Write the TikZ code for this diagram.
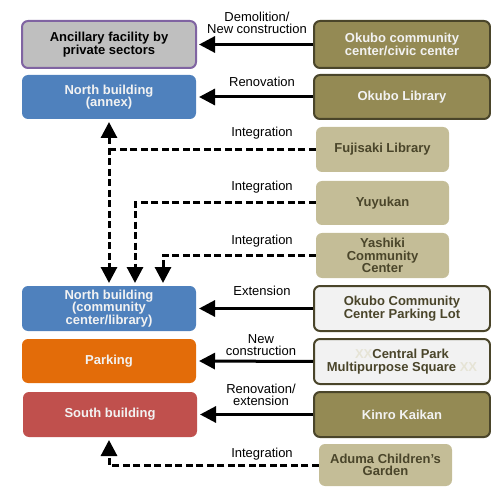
\documentclass[tikz,border=0pt]{standalone}
\usepackage{fontspec}
\setmainfont{Liberation Sans}
\usetikzlibrary{arrows.meta}

\definecolor{ancfill}{HTML}{BFBFBF}
\definecolor{ancline}{HTML}{8064A2}
\definecolor{bluebox}{HTML}{4F81BD}
\definecolor{orangebox}{HTML}{E36C09}
\definecolor{redbox}{HTML}{C0504D}
\definecolor{olivebox}{HTML}{948A54}
\definecolor{oliveline}{HTML}{4A452A}
\definecolor{tanbox}{HTML}{C4BD97}
\definecolor{paleboxfill}{HTML}{F2F2F2}
\definecolor{lighttext}{HTML}{F2F2F2}
\definecolor{ghost}{HTML}{E6E4D6}

\tikzset{
  box/.style={rounded corners=6pt, align=center, inner sep=0pt,
    font=\fontsize{13}{12.5}\selectfont\bfseries},
  leftbox/.style={box, minimum width=174pt, outer sep=3pt},
  widebox/.style={box, minimum width=176pt, draw=oliveline, line width=2pt},
  narrowbox/.style={box, minimum width=133pt, fill=tanbox, text=oliveline},
  olivebox/.style={widebox, fill=olivebox, text=lighttext},
  palebox/.style={widebox, fill=paleboxfill, text=oliveline},
  lbl/.style={align=center, inner sep=0pt, anchor=base,
    font=\fontsize{13}{12}\selectfont},
  solidarrow/.style={line width=3pt, ->},
  dashline/.style={line width=3pt, dash pattern=on 7pt off 3.5pt},
}

\begin{document}
\begin{tikzpicture}[x=1pt, y=-1pt, >={Triangle[length=16pt,width=16pt]}]
\useasboundingbox (0,0) rectangle (491,487);

% facilities after the project (left column)
\node[leftbox, minimum height=47pt, fill=ancfill, draw=ancline, line width=2pt] (anc) at (109,44.5) {Ancillary facility by\\private sectors};
\node[leftbox, minimum height=44pt, fill=bluebox, text=lighttext] (nba) at (109,97) {North building\\(annex)};
\node[leftbox, minimum height=45pt, fill=bluebox, text=lighttext] (nbc) at (109,308.5) {North building\\(community\\center/library)};
\node[leftbox, minimum height=44pt, fill=orangebox, text=lighttext] (park) at (109,361) {Parking};
\node[leftbox, minimum height=45pt, fill=redbox, text=lighttext] (south) at (110,414.5) {South building};

% existing facilities (right column)
\node[olivebox, minimum height=47pt] (okc) at (402,44.5) {Okubo community\\center/civic center};
\node[olivebox, minimum height=44pt] (okl) at (402,97) {Okubo Library};
\node[narrowbox, minimum height=45pt] (fuj) at (382.5,149.5) {Fujisaki Library};
\node[narrowbox, minimum height=44pt] (yuy) at (382.5,203) {Yuyukan};
\node[narrowbox, minimum height=45pt] (yas) at (382.5,255.5) {Yashiki\\Community\\Center};
\node[palebox, minimum height=45pt] (okp) at (402,308.5) {Okubo Community\\Center Parking Lot};
\node[palebox, minimum height=45pt] (cps) at (402,361.5) {{\color{ghost}XX}Central Park\\Multipurpose Square {\color{ghost}XX}};
\node[olivebox, minimum height=45pt] (kin) at (402,414.5) {Kinro Kaikan};
\node[narrowbox, minimum height=42pt] (adu) at (385.5,465) {Aduma Children's\\Garden};

% solid connectors
\draw[solidarrow] (okc.west) -- (anc.east);
\draw[solidarrow] (okl.west) -- (nba.east);
\draw[solidarrow] (okp.west) -- (nbc.east);
\draw[solidarrow] (cps.west) -- (park.east);
\draw[solidarrow] (kin.west) -- (south.east);

% dashed connectors
\draw[dashline, <->] (nba.south) -- (nbc.north);
\draw[dashline] (fuj.west) -- (fuj.west -| nba.south);
\draw[dashline, ->] (yuy.west) -| ([xshift=26pt]nbc.north);
\draw[dashline, ->] (yas.west) -| ([xshift=54pt]nbc.north);
\draw[dashline, ->] (adu.west) -| ([xshift=-1pt]south.south);

% connector labels (anchored on the baseline of the last line)
\node[lbl] (l1) at (257,33.5) {Demolition/\\New construction};
\node[lbl] (l2) at (262,87) {Renovation};
\node[lbl] (l3) at (262,137) {Integration};
\node[lbl] (l4) at (262,191) {Integration};
\node[lbl] (l5) at (262,244) {Integration};
\node[lbl] (l6) at (262,295) {Extension};
\node[lbl] (l7) at (261,355) {New\\construction};
\node[lbl] (l8) at (261,405) {Renovation/\\extension};
\node[lbl] (l9) at (262,457) {Integration};
\end{tikzpicture}
\end{document}
